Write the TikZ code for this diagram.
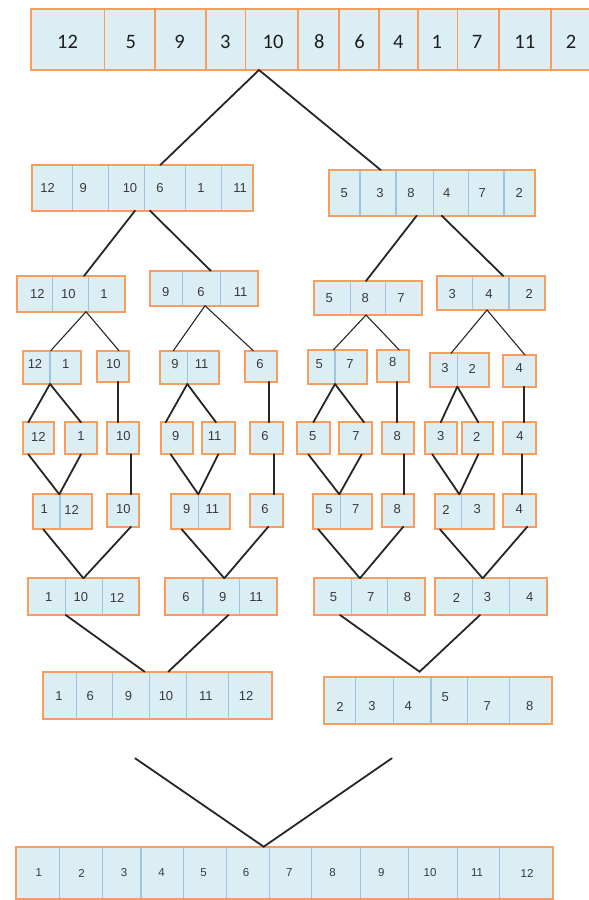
\documentclass[tikz,border=0pt]{standalone}
\usepackage{fontspec}
\setmainfont{Liberation Sans}
\newfontfamily\calib{Carlito}
\usetikzlibrary{calc}
\definecolor{cellfill}{HTML}{DBEEF4}
\definecolor{boxedge}{HTML}{F79E5E}
\definecolor{divblue}{HTML}{A3C2E0}
\definecolor{linegray}{HTML}{262626}
\definecolor{numgray}{HTML}{3A3A3A}
\tikzset{
  boxshape/.style={rectangle, fill=cellfill, draw=boxedge, line width=2pt, inner sep=0pt, outer sep=0pt},
  divline/.style={draw=divblue, line width=1.2pt, shorten >=1pt, shorten <=1pt},
  topdiv/.style={draw=boxedge, line width=1.6pt},
  num/.style={font=\fontsize{13}{13}\selectfont, text=numgray, inner sep=0pt, anchor=center},
  topnum/.style={font=\calib\fontsize{20.5}{20}\selectfont, text=black!88, inner sep=0pt, anchor=center},
  botnum/.style={font=\fontsize{11.5}{12}\selectfont, text=numgray, inner sep=0pt, anchor=center},
  conn/.style={draw=linegray, line width=1.8pt, line cap=round, line join=miter},
  thinconn/.style={draw=linegray, line width=1.1pt, line cap=round},
}
% box: name, left, top, right, bottom
\newcommand\abox[5]{\node[boxshape, minimum width={(#4-#2)*1pt}, minimum height={(#5-#3)*1pt}] (#1) at ({(#2+#4)/2},{(#3+#5)/2}) {};}
% dividers: box, list of x
\newcommand\divs[2]{\foreach \d in {#2} {\draw[divline] (\d,0 |- #1.north) -- (\d,0 |- #1.south);}}
% numbers: box, style, y, list x/label
\newcommand\nums[4]{\foreach \x/\t [count=\i] in {#4} {\node[#2] (#1-\i) at (\x,#3) {\t};}}
% link: box a, x at a's bottom, box b, x at b's top
\newcommand\link[5][conn]{\draw[#1] (#3,0 |- #2.south) -- (#5,0 |- #4.north);}
\begin{document}
\begin{tikzpicture}[x=1pt,y=-1pt]
\useasboundingbox (0,0) rectangle (589,900);
% ---- top array
\abox{T}{31}{9}{594}{70}
\foreach \d in {104.4,155.1,205.9,245.3,297.9,339.2,378.7,418.1,457.5,498.9,550.7} {\draw[topdiv] (\d,0 |- T.north) -- (\d,0 |- T.south);}
\nums{T}{topnum}{42}{67.6/12,130.7/5,179.6/9,225.4/3,273.1/10,319.3/8,359.5/6,398.2/4,436.9/1,477.1/7,524.8/11,571/2}
% ---- level 2
\abox{La}{31.7}{165}{252.7}{210.7}
\divs{La}{72.7,108.3,144.3,185.7,221.7}
\nums{La}{num}{188}{47.7/12,83.3/9,130/10,160/6,201/1,240/11}
\abox{Lb}{329.3}{170}{535}{215.7}
\divs{Lb}{360,396,433.3,468.3,504}
\nums{Lb}{num}{193}{344.3/5,380/3,411/8,446.7/4,482.3/7,519.3/2}
% ---- level 3
\abox{Ma}{16.7}{276}{125}{311.7}
\divs{Ma}{52.3,88.3}
\nums{Ma}{num}{294}{37.3/12,68.3/10,104/1}
\abox{Mb}{150}{270.7}{258.3}{305.7}
\divs{Mb}{182.3,220.7}
\nums{Mb}{num}{292}{165.7/9,201/6,240.7/11}
\abox{Mc}{314}{281}{421.7}{315}
\divs{Mc}{350.7,385.7}
\nums{Mc}{num}{298.5}{329.3/5,365.3/8,401/7}
\abox{Md}{436.7}{276}{545}{310}
\divs{Md}{472.7,509}
\nums{Md}{num}{294}{452.3/3,489/4,529.3/2}
% ---- level 4
\abox{Na}{22.7}{350.7}{81}{384}
\divs{Na}{50}
\nums{Na}{num}{364}{35/12,65.7/1}
\abox{Nb}{96.7}{350.7}{129}{381.7}
\nums{Nb}{num}{364}{113.3/10}
\abox{Nc}{160}{350.7}{219.3}{384}
\divs{Nc}{187.3}
\nums{Nc}{num}{364}{175/9,201.7/11}
\abox{Nd}{245}{350.7}{277.3}{381.7}
\nums{Nd}{num}{364}{260/6}
\abox{Ne}{308.3}{350}{367.3}{384}
\divs{Ne}{335}
\nums{Ne}{num}{364}{319.3/5,350/7}
\abox{Nf}{376.7}{350}{409}{381.7}
\nums{Nf}{num}{362.5}{392.7/8}
\abox{Ng}{430}{353.3}{489}{386.7}
\divs{Ng}{457.3}
\nums{Ng}{num}{368.5}{445/3,472.3/2}
\abox{Nh}{503.3}{355}{536}{386.7}
\nums{Nh}{num}{368.5}{519.3/4}
% ---- level 5
\abox{Pa}{22.7}{422.3}{54.3}{454.3}
\nums{Pa}{num}{436.5}{38.3/12}
\abox{Pb}{65}{422.3}{96.7}{454.3}
\nums{Pb}{num}{436.5}{81/1}
\abox{Pc}{106.7}{422.3}{139.3}{454.3}
\nums{Pc}{num}{436.5}{123.3/10}
\abox{Pd}{160.7}{422.3}{192.7}{454.3}
\nums{Pd}{num}{436.5}{175.7/9}
\abox{Pe}{202.3}{422.3}{235}{454.3}
\nums{Pe}{num}{436.5}{214.5/11}
\abox{Pf}{250}{422.3}{282.7}{454.3}
\nums{Pf}{num}{436.5}{265/6}
\abox{Pg}{297.3}{422.3}{330}{454.3}
\nums{Pg}{num}{436.5}{312.7/5}
\abox{Ph}{339.3}{422.3}{372.3}{454.3}
\nums{Ph}{num}{436.5}{356/7}
\abox{Pi}{381.7}{422.3}{414}{454.3}
\nums{Pi}{num}{436.5}{397.3/8}
\abox{Pj}{425}{422.3}{456.7}{454.3}
\nums{Pj}{num}{436.5}{440.7/3}
\abox{Pk}{461.7}{422.3}{493.3}{454.3}
\nums{Pk}{num}{436.5}{476.7/2}
\abox{Pl}{503.3}{422.3}{536}{454.3}
\nums{Pl}{num}{436.5}{520/4}
% ---- level 6
\abox{Qa}{33.3}{494.3}{91.7}{529.3}
\divs{Qa}{60}
\nums{Qa}{num}{509.5}{44.3/1,71.7/12}
\abox{Qb}{106.7}{494.3}{139.3}{526.7}
\nums{Qb}{num}{509.5}{123.3/10}
\abox{Qc}{170.7}{494.3}{230}{529.3}
\divs{Qc}{198.3}
\nums{Qc}{num}{509.5}{186.7/9,212.3/11}
\abox{Qd}{250}{494.3}{282.7}{526.7}
\nums{Qd}{num}{509.5}{265/6}
\abox{Qe}{313.3}{494.3}{372.3}{529.3}
\divs{Qe}{340.7}
\nums{Qe}{num}{509.5}{329/5,355.7/7}
\abox{Qf}{381.7}{494.3}{414}{526.7}
\nums{Qf}{num}{509.5}{397.3/8}
\abox{Qg}{435}{494.3}{494}{529.3}
\divs{Qg}{461.7}
\nums{Qg}{num}{509.5}{446/2,477.3/3}
\abox{Qh}{503.3}{494.3}{536}{526.7}
\nums{Qh}{num}{509.5}{519.3/4}
% ---- level 7
\abox{Ra}{28.2}{578.3}{139}{615}
\divs{Ra}{65.7,102.2}
\nums{Ra}{num}{597.5}{48.8/1,80.8/10,117.2/12}
\abox{Rb}{165.3}{578.3}{277.2}{615}
\divs{Rb}{202.9,239.3}
\nums{Rb}{num}{597.5}{186/6,222.8/9,256.2/11}
\abox{Rc}{313.7}{578.3}{425.2}{615}
\divs{Rc}{351.2,387.7}
\nums{Rc}{num}{597.5}{333.6/5,370.8/7,407.6/8}
\abox{Rd}{435}{578.3}{546.6}{615}
\divs{Rd}{472.6,509.8}
\nums{Rd}{num}{597.5}{456.4/2,487.6/3,529.7/4}
% ---- level 8
\abox{Sa}{43.2}{671.7}{271.6}{719.3}
\divs{Sa}{76.3,112.7,149.5,186.7,228.4}
\nums{Sa}{num}{696}{59/1,90.2/6,128.5/9,166/10,205.9/11,246/12}
\abox{Sb}{323.8}{676.7}{552.2}{724.3}
\divs{Sb}{355.7,393.3,430.9,467.7,509.8}
\nums{Sb}{num}{706.5}{340/2,371.9/3,408.3/4,487.2/7,529.7/8}
\node[num] (Sb-5) at (445.2,697) {5};
% ---- bottom array
\abox{B}{16.2}{846.7}{553.4}{899}
\divs{B}{59.4,102.6,140.9,183.3,226.5,269.3,311.8,360.6,408.3,457.2,499.6}
\nums{B}{botnum}{873}{38.7/1,81.5/2,124/3,161.5/4,203.6/5,246/6,289.3/7,332.5/8,381.3/9,430.1/10,477.1/11,527/12}
% ---- connectors
\link{T}{259}{La}{160.3}
\link{T}{259}{Lb}{380.7}
\link{La}{135}{Ma}{84}
\link{La}{150}{Mb}{210.7}
\link{Lb}{416.7}{Mc}{366}
\link{Lb}{441.7}{Md}{503.3}
\link[thinconn]{Ma}{86}{Na}{50.7}
\link[thinconn]{Ma}{86}{Nb}{119}
\link[thinconn]{Mb}{205}{Nc}{173.3}
\link[thinconn]{Mb}{205}{Nd}{253.3}
\link[thinconn]{Mc}{366}{Ne}{333.3}
\link[thinconn]{Mc}{366}{Nf}{399.3}
\link[thinconn]{Md}{487}{Ng}{451}
\link[thinconn]{Md}{487}{Nh}{525}
\link{Na}{50}{Pa}{28.3}
\link{Na}{50}{Pb}{81}
\link{Nb}{118.3}{Pc}{118.3}
\link{Nc}{187.3}{Pd}{165.7}
\link{Nc}{187.3}{Pe}{216}
\link{Nd}{269.3}{Pf}{269.3}
\link{Ne}{335}{Pg}{313.3}
\link{Ne}{335}{Ph}{364}
\link{Nf}{396.7}{Pi}{396.7}
\link{Ng}{457.3}{Pj}{440.7}
\link{Ng}{457.3}{Pk}{478.3}
\link{Nh}{524.3}{Pl}{524.3}
\link{Pa}{28.3}{Qa}{59.3}
\link{Pb}{81}{Qa}{59.3}
\link{Pc}{131}{Qb}{131}
\link{Pd}{170.7}{Qc}{198.3}
\link{Pe}{218.3}{Qc}{198.3}
\link{Pf}{274}{Qd}{274}
\link{Pg}{308.3}{Qe}{339.3}
\link{Ph}{361.7}{Qe}{339.3}
\link{Pi}{404.3}{Qf}{404.3}
\link{Pj}{432.3}{Qg}{459.3}
\link{Pk}{478.3}{Qg}{459.3}
\link{Pl}{522.3}{Qh}{522.3}
\link{Qa}{43.3}{Ra}{83.4}
\link{Qb}{131}{Ra}{83.4}
\link{Qc}{181.7}{Rb}{224.3}
\link{Qd}{268.3}{Rb}{224.3}
\link{Qe}{318.3}{Rc}{359.9}
\link{Qf}{403.3}{Rc}{359.9}
\link{Qg}{440}{Rd}{482.7}
\link{Qh}{527.3}{Rd}{482.7}
\link{Ra}{65.7}{Sa}{144.6}
\link{Rb}{228.4}{Sa}{168.3}
\coordinate (apexR) at (419.6,671.7);
\draw[conn] (340,0 |- Rc.south) -- (apexR) -- (480,0 |- Rd.south);
\coordinate (f1) at (135.2,758.3);
\coordinate (f2) at (391.8,758.3);
\draw[conn] (f1) -- (263.7,0 |- B.north) -- (f2);
\end{tikzpicture}
\end{document}
